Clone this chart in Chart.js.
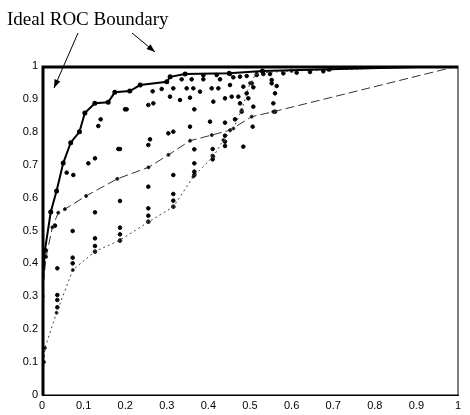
<!DOCTYPE html>
<html><head><meta charset="utf-8">
<script src="https://cdn.jsdelivr.net/npm/chart.js@4/dist/chart.umd.min.js"></script>
<style>body{margin:0;background:#fff}#wrap{width:470px;height:415px}</style>
</head><body><div id="wrap"><canvas id="c"></canvas></div>
<script>
const ticks = [0,0.1,0.2,0.3,0.4,0.5,0.6,0.7,0.8,0.9,1];
const ideal = [[0,0],[0,1],[1,1]];
const bestCurve = [[0,0.3],[0.007,0.44],[0.021,0.556],[0.035,0.62],[0.051,0.705],[0.069,0.767],[0.09,0.8],[0.103,0.857],[0.127,0.887],[0.159,0.89],[0.175,0.92],[0.211,0.924],[0.236,0.942],[0.3,0.952],[0.308,0.967],[0.344,0.976],[0.45,0.978],[0.53,0.985],[0.69,0.99],[1,1]];
const midCurve = [[0,0.3],[0.01,0.42],[0.025,0.51],[0.039,0.554],[0.055,0.565],[0.106,0.605],[0.181,0.657],[0.256,0.692],[0.304,0.73],[0.356,0.773],[0.408,0.79],[0.452,0.805],[0.504,0.846],[0.556,0.861],[1,1]];
const lowCurve = [[0.005,0.1],[0.007,0.143],[0.035,0.25],[0.074,0.38],[0.127,0.436],[0.188,0.471],[0.256,0.526],[0.316,0.572],[0.364,0.664],[0.412,0.725],[0.436,0.775],[0.46,0.81],[0.48,0.866],[0.5,0.948],[0.516,0.978],[0.6,0.985],[1,1]];
const scatterZ = [[82,655],[82,735],[82,750],[82,772],[75,527],[110,368],[130,375],[128,543],[128,623],[128,640],[205,228],[212,208],[175,340],[195,325],[195,487],[195,565],[195,588],[195,605],[270,297],[265,297],[285,178],[290,178],[270,453],[270,533],[270,553],[270,572],[355,285],[360,268],[355,165],[370,160],[368,124],[395,117],[355,410],[355,475],[355,497],[355,515],[415,250],[430,245],[430,375],[430,432],[430,452],[430,470],[420,140],[430,115],[450,150],[455,88],[470,115],[480,143],[480,230],[485,88],[490,115],[493,178],[493,298],[493,340],[493,365],[493,375],[510,125],[520,88],[540,215],[548,297],[548,318],[548,328],[550,155],[545,115],[565,115],[570,88],[585,145],[585,218],[585,257],[585,275],[585,288],[600,105],[605,140],[625,140],[615,208],[630,160],[635,185],[640,110],[650,130],[655,145],[670,170],[665,100],[670,112],[725,90],[730,160],[735,185],[735,130],[740,108],[725,100],[668,230],[640,290],[610,82],[630,80],[650,78],[680,75],[700,72],[720,72],[760,70],[800,68],[840,66],[880,64],[600,72],[560,75],[520,76]];
const scatterPts = scatterZ.map(p => ({x:(p[0]-36)/1248, y:(1035-p[1])/987}));
const xy = a => a.map(p => ({x:p[0], y:p[1]}));

const notes = {
  id:'notes',
  afterDraw(c){
    const g=c.ctx; g.save();
    g.fillStyle='#000'; g.font='19px "Liberation Serif"'; g.textBaseline='alphabetic';
    g.fillText('Ideal ROC Boundary',7,25);
    g.strokeStyle='#000'; g.lineWidth=1;
    const arrow=(x1,y1,x2,y2)=>{
      g.beginPath();g.moveTo(x1,y1);g.lineTo(x2,y2);g.stroke();
      const a=Math.atan2(y2-y1,x2-x1);
      g.beginPath();g.moveTo(x2,y2);
      g.lineTo(x2-9*Math.cos(a-0.35),y2-9*Math.sin(a-0.35));
      g.lineTo(x2-9*Math.cos(a+0.35),y2-9*Math.sin(a+0.35));
      g.closePath();g.fill();
    };
    arrow(78,33,54,88);
    arrow(132,33,155,52);
    g.restore();
  }
};

new Chart(document.getElementById('c'), {
  type:'scatter',
  data:{datasets:[
    {data:xy(ideal),showLine:true,borderColor:'#000',borderWidth:5,pointRadius:0,tension:0},
    {data:xy(bestCurve),showLine:true,borderColor:'#000',borderWidth:2,pointRadius:1.5,pointBackgroundColor:'#000',tension:0},
    {data:xy(midCurve),showLine:true,borderColor:'#333',borderWidth:1,borderDash:[9,4],pointRadius:1.5,pointBackgroundColor:'#000',tension:0},
    {data:xy(lowCurve),showLine:true,borderColor:'#444',borderWidth:1,borderDash:[2,3],pointRadius:1.5,pointBackgroundColor:'#000',tension:0},
    {data:scatterPts,showLine:false,pointRadius:1.8,pointBackgroundColor:'#000',borderColor:'#000'}
  ]},
  options:{
    animation:false,responsive:true,maintainAspectRatio:false,
    layout:{padding:{left:0,top:66,right:12,bottom:0}},
    plugins:{legend:{display:false},tooltip:{enabled:false}},
    scales:{
      x:{type:'linear',min:0,max:1,
        afterBuildTicks:s=>{s.ticks=ticks.map(v=>({value:v}));},
        afterFit:s=>{s.height=20;},
        grid:{display:false,drawTicks:false},border:{color:'#000',width:1},
        ticks:{color:'#000',font:{family:'Liberation Sans',size:11},padding:4,maxRotation:0,callback:v=>String(v)}},
      y:{type:'linear',min:0,max:1,
        afterBuildTicks:s=>{s.ticks=ticks.map(v=>({value:v}));},
        afterFit:s=>{s.width=42;},
        grid:{display:false,drawTicks:false},border:{color:'#000',width:1},
        ticks:{color:'#000',font:{family:'Liberation Sans',size:11},padding:4,callback:v=>String(v)}}
    }
  },
  plugins:[notes,{id:'frame',afterDraw(c){const a=c.chartArea,g=c.ctx;g.save();g.strokeStyle='#000';g.lineWidth=1;g.strokeRect(a.left,a.top,a.right-a.left,a.bottom-a.top);g.restore();}}]
});
</script></body></html>
